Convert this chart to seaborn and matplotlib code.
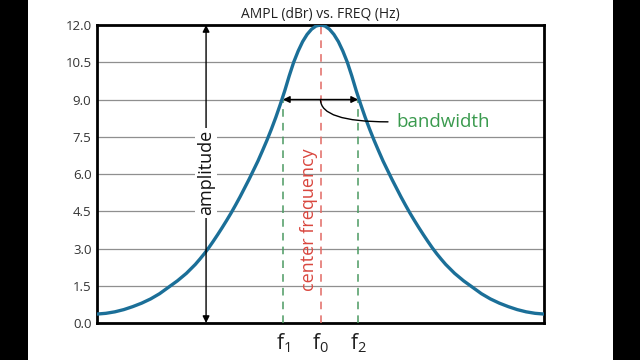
import numpy as np
import pandas as pd
import matplotlib
matplotlib.use("Agg")
import matplotlib.pyplot as plt
from matplotlib.patches import Rectangle
import seaborn as sns

# resonance curve (x = frequency, arbitrary units 0-100)
freq = [0, 2, 4, 6, 8, 10, 12, 14, 16, 18, 20,
        22, 23, 24, 25, 26, 27, 28, 29, 30, 31, 32, 33, 34, 35, 36,
        37, 38, 39, 40, 41, 42, 43, 44, 45, 46, 47, 48, 49, 50,
        51, 52, 53, 54, 55, 56, 57, 58, 59, 60, 61, 62, 63, 64,
        65, 66, 67, 68, 69, 70, 71, 72, 73, 74, 75, 76, 77, 78,
        80, 82, 84, 86, 88, 90, 92, 94, 96, 98, 100]
ampl = [0.36, 0.39, 0.45, 0.54, 0.66, 0.80, 0.97, 1.18, 1.44, 1.70, 2.00,
        2.36, 2.57, 2.79, 3.03, 3.29, 3.56, 3.84, 4.13, 4.43, 4.75, 5.08, 5.43, 5.78, 6.15, 6.52,
        6.93, 7.35, 7.80, 8.28, 8.80, 9.35, 9.95, 10.50, 10.95, 11.33, 11.62, 11.83, 11.96, 12.00,
        11.96, 11.83, 11.62, 11.33, 10.95, 10.50, 9.95, 9.35, 8.80, 8.28, 7.80, 7.35, 6.93, 6.52,
        6.15, 5.78, 5.43, 5.08, 4.75, 4.43, 4.13, 3.84, 3.56, 3.29, 3.03, 2.79, 2.57, 2.36,
        2.00, 1.70, 1.44, 1.18, 0.97, 0.80, 0.66, 0.54, 0.45, 0.39, 0.36]

y_ticks = [0.0, 1.5, 3.0, 4.5, 6.0, 7.5, 9.0, 10.5, 12.0]
f_pos = [41.6, 50.0, 58.4]
f_labels = [r"$\mathregular{f_1}$", r"$\mathregular{f_0}$", r"$\mathregular{f_2}$"]
peak = 12.0
half_level = 9.0
amp_x = 24.4

sns.set_theme(style="white")
plt.rcParams['font.family'] = ['Open Sans', 'DejaVu Sans']
plt.rcParams['mathtext.fontset'] = 'custom'
plt.rcParams['mathtext.rm'] = 'Open Sans'

fig = plt.figure(figsize=(6.4, 3.6), dpi=100, facecolor='black')
# white page between the black side bars
fig.patches.append(Rectangle((28 / 640, 0), 585 / 640, 1, transform=fig.transFigure,
                             facecolor='white', edgecolor='none', zorder=-10))
ax = fig.add_axes([97 / 640, 37 / 360, 447 / 640, 298 / 360])
ax.set_zorder(1)

df = pd.DataFrame({'freq': freq, 'ampl': ampl})
sns.lineplot(data=df, x='freq', y='ampl', color='#1b6f98', linewidth=2.4, ax=ax, zorder=4)

ax.set_xlim(0, 100)
ax.set_ylim(0, 12)
ax.set_xlabel("")
ax.set_ylabel("")
ax.set_yticks(y_ticks)
ax.set_yticklabels([f"{v:.1f}" for v in y_ticks])
ax.set_xticks(f_pos)
ax.set_xticklabels(f_labels)
ax.yaxis.grid(True, color='#8f8f8f', linewidth=0.9)
ax.xaxis.grid(False)
ax.set_axisbelow(True)
ax.tick_params(axis='y', length=0, pad=4, labelsize=9.5, labelcolor='#333333')
ax.tick_params(axis='x', length=0, pad=6, labelsize=15, labelcolor='#222222')
for s in ax.spines.values():
    s.set_color('black')
    s.set_linewidth(2)

ax.set_title("AMPL (dBr) vs. FREQ (Hz)", fontsize=10, color='#222222', pad=5)

# dashed markers
ax.vlines([f_pos[0], f_pos[2]], 0, half_level, colors='#4b9a62', linestyles=(0, (5, 4)), linewidth=1.1, zorder=3)
ax.vlines(f_pos[1], 0, peak, colors='#e26a64', linestyles=(0, (5, 4)), linewidth=1.1, zorder=3)

# amplitude arrow
ax.annotate('', xy=(amp_x, peak), xytext=(amp_x, 0),
            arrowprops=dict(arrowstyle='<|-|>', color='black', lw=1, mutation_scale=10,
                            shrinkA=0, shrinkB=0), zorder=5)
ax.text(amp_x, 6.05, "amplitude", rotation=90, ha='center', va='center', fontsize=13,
        color='#111111', bbox=dict(facecolor='white', edgecolor='none', pad=1.5), zorder=6)

# bandwidth arrow and leader
ax.annotate('', xy=(f_pos[0], half_level), xytext=(f_pos[2], half_level),
            arrowprops=dict(arrowstyle='<|-|>', color='black', lw=1, mutation_scale=10,
                            shrinkA=0, shrinkB=0), zorder=5)
ax.annotate('', xy=(f_pos[1], half_level), xytext=(65.1, 8.1),
            arrowprops=dict(arrowstyle='-', color='black', lw=1,
                            connectionstyle='angle3,angleA=0,angleB=90',
                            shrinkA=0, shrinkB=0), zorder=5)
ax.text(66.9, 8.1, "bandwidth", ha='left', va='center', fontsize=13.5, color='#3a9a4e',
        bbox=dict(facecolor='white', edgecolor='none', pad=1), zorder=6)

ax.text(47.4, 4.15, "center frequency", rotation=90, ha='center', va='center',
        fontsize=13, color='#d9473f', zorder=6)

fig.savefig('out.png', dpi=100, facecolor=fig.get_facecolor())
